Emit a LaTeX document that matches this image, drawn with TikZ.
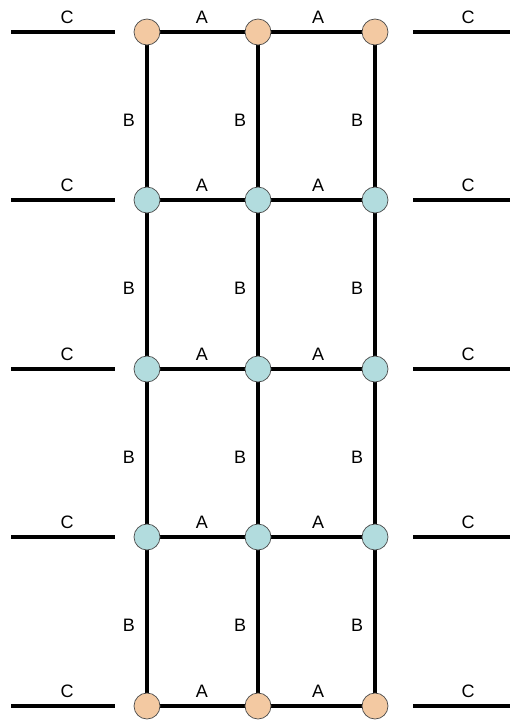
\documentclass[tikz,border=0pt]{standalone}
\usepackage{fontspec}
\setmainfont{Liberation Sans}
\usetikzlibrary{backgrounds}
\definecolor{peach}{HTML}{F3C9A2}
\definecolor{cyanl}{HTML}{B2DCDE}
\newcommand{\lblfont}{\fontsize{18pt}{18pt}\selectfont}
\begin{document}
\begin{tikzpicture}[x=1pt,y=-1pt,
  wire/.style={line width=3.2pt,black},
  dot/.style={circle,draw=black!70,line width=0.7pt,minimum size=26pt,inner sep=0pt},
  endnode/.style={dot,fill=peach},
  midnode/.style={dot,fill=cyanl},
  lbl/.style={font=\lblfont,inner sep=0pt}]
\useasboundingbox (0,0) rectangle (510,720);
\def\xa{147}\def\xb{258}\def\xc{375}
% nodes
\foreach \r/\y/\s in {1/32/endnode,2/200/midnode,3/369/midnode,4/537/midnode,5/706/endnode}{
  \node[\s] (n\r a) at (\xa,\y) {};
  \node[\s] (n\r b) at (\xb,\y) {};
  \node[\s] (n\r c) at (\xc,\y) {};
  \coordinate (l\r s) at (11,\y);
  \coordinate (l\r e) at (115,\y);
  \coordinate (r\r s) at (413,\y);
  \coordinate (r\r e) at (510,\y);
}
\begin{scope}[on background layer]
\foreach \r in {1,...,5}{
  \draw[wire] (n\r a.center) -- (n\r b.center) -- (n\r c.center);
}
\foreach \r/\q in {1/2,2/3,3/4,4/5}{
  \draw[wire] (n\r a.center) -- (n\q a.center);
  \draw[wire] (n\r b.center) -- (n\q b.center);
  \draw[wire] (n\r c.center) -- (n\q c.center);
}
\end{scope}
\foreach \r in {1,...,5}{
  \draw[wire] (l\r s) -- (l\r e);
  \draw[wire] (r\r s) -- (r\r e);
}
% labels
\foreach \r/\y in {1/32,2/200,3/369,4/537,5/706}{
  \node[lbl] (ca\r) at (67,\y-15) {C};
  \node[lbl] (cb\r) at (468,\y-15) {C};
  \node[lbl] (aa\r) at (202,\y-15) {A};
  \node[lbl] (ab\r) at (318,\y-15) {A};
}
\foreach \r/\y in {1/32,2/200,3/369,4/537}{
  \node[lbl] (ba\r) at (129,\y+88) {B};
  \node[lbl] (bb\r) at (240,\y+88) {B};
  \node[lbl] (bc\r) at (357,\y+88) {B};
}
\end{tikzpicture}
\end{document}
